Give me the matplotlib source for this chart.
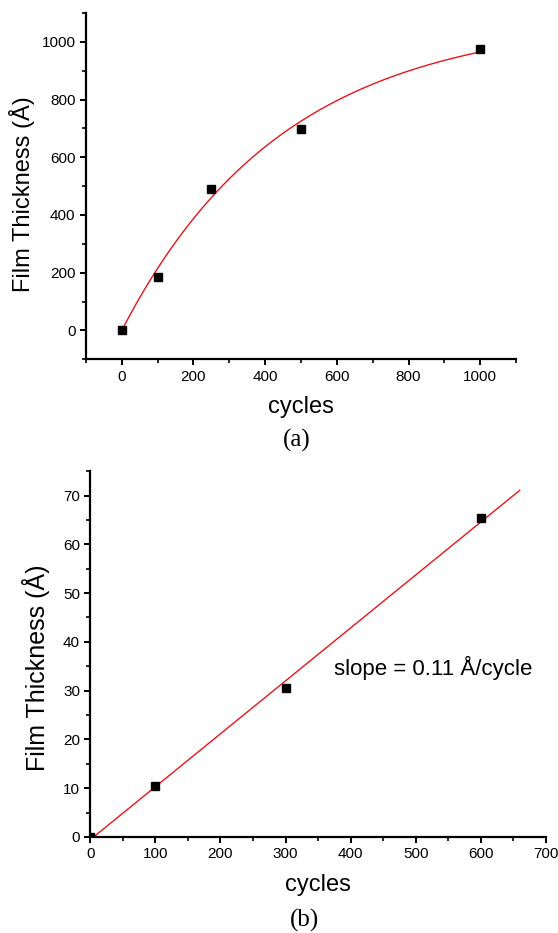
import numpy as np
import matplotlib
matplotlib.use("Agg")
import matplotlib.pyplot as plt
from matplotlib.ticker import MultipleLocator

plt.rcParams['font.family'] = ['Liberation Sans', 'DejaVu Sans']

# Panel (a) data
cycles_a = [0, 100, 250, 500, 1000]
thick_a = [0, 185, 490, 697, 975]
fit_a_amp = 1084.0
fit_a_tau = 452.0

# Panel (b) data
cycles_b = [0, 100, 300, 600]
thick_b = [0, 10.5, 30.5, 65.3]
fit_b_slope = 0.1085
fit_b_intercept = -0.55
fit_b_xmax = 660

xlabel = "cycles"
ylabel = "Film Thickness (Å)"
slope_text = "slope = 0.11 Å/cycle"

fig = plt.figure(figsize=(5.58, 9.33), dpi=100)

def style(ax):
    for s in ['top', 'right']:
        ax.spines[s].set_visible(False)
    for s in ['left', 'bottom']:
        ax.spines[s].set_linewidth(1.6)
    ax.tick_params(which='major', direction='out', length=4, width=1.4, labelsize=11)
    ax.tick_params(which='minor', direction='out', length=3, width=1.2)

# Panel a
ax1 = fig.add_axes([0.154, 0.615, 0.771, 0.371])
xf = np.linspace(0, 1000, 200)
ax1.plot(xf, fit_a_amp * (1 - np.exp(-xf / fit_a_tau)), color='#e8141a', lw=1.0)
ax1.plot(cycles_a, thick_a, 's', color='black', ms=6)
ax1.set_xlim(-100, 1100)
ax1.set_ylim(-100, 1100)
ax1.xaxis.set_major_locator(MultipleLocator(200))
ax1.xaxis.set_minor_locator(MultipleLocator(100))
ax1.yaxis.set_major_locator(MultipleLocator(200))
ax1.yaxis.set_minor_locator(MultipleLocator(100))
style(ax1)
ax1.set_xlabel(xlabel, fontsize=17, labelpad=9)
ax1.set_ylabel(ylabel, fontsize=17, va='center')
ax1.yaxis.set_label_coords(-0.149, 0.478)
fig.text(0.532, 1 - 440 / 933, "(a)", ha='center', va='center',
         family=['Liberation Serif'], fontsize=18)

# Panel b
ax2 = fig.add_axes([0.162, 0.103, 0.816, 0.392])
xl = np.array([0, fit_b_xmax])
ax2.plot(xl, fit_b_slope * xl + fit_b_intercept, color='#e8141a', lw=1.0)
ax2.plot(cycles_b, thick_b, 's', color='black', ms=6)
ax2.set_xlim(0, 700)
ax2.set_ylim(0, 75)
ax2.xaxis.set_major_locator(MultipleLocator(100))
ax2.xaxis.set_minor_locator(MultipleLocator(50))
ax2.yaxis.set_major_locator(MultipleLocator(10))
ax2.yaxis.set_minor_locator(MultipleLocator(5))
style(ax2)
ax2.set_xlabel(xlabel, fontsize=17, labelpad=9)
ax2.set_ylabel(ylabel, fontsize=18, va='center')
ax2.yaxis.set_label_coords(-0.119, 0.462)
ax2.text(374, 34.6, slope_text, ha='left', va='center', fontsize=16)
fig.text(0.545, 1 - 920 / 933, "(b)", ha='center', va='center',
         family=['Liberation Serif'], fontsize=18)

fig.savefig("out.png", dpi=100)
